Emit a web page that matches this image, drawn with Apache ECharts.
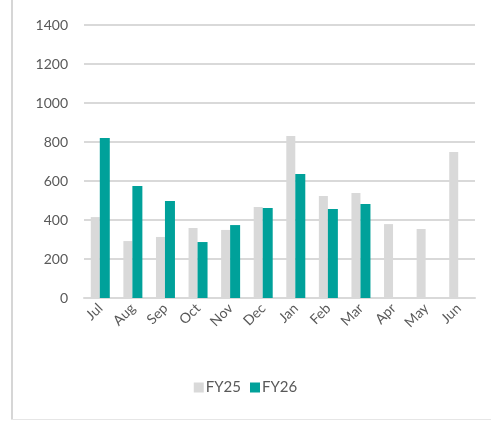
<!DOCTYPE html>
<html>
<head>
<meta charset="utf-8">
<style>
  html, body { margin: 0; padding: 0; background: #fff; }
  #chart { width: 491px; height: 422px; }
</style>
<script src="https://cdn.jsdelivr.net/npm/echarts@6/dist/echarts.min.js"></script>
</head>
<body>
<div id="chart"></div>
<script>
var months = ['Jul', 'Aug', 'Sep', 'Oct', 'Nov', 'Dec', 'Jan', 'Feb', 'Mar', 'Apr', 'May', 'Jun'];
var fy25 = [415, 292, 313, 359, 349, 467, 831, 523, 538, 379, 354, 749];
var fy26 = [820, 574, 497, 287, 374, 462, 636, 456, 482, null, null, null];
var yTicks = [0, 200, 400, 600, 800, 1000, 1200, 1400];

var chart = echarts.init(document.getElementById('chart'));
var textFont = 'Lato, "Open Sans", sans-serif';

var options = {
    animation: false,
    textStyle: { fontFamily: textFont },
    graphic: [
        // frame left and bottom edges
        { type: 'rect', shape: { x: 11, y: 0, width: 2, height: 420 }, style: { fill: '#d6d6d6' } },
        { type: 'rect', shape: { x: 11, y: 419, width: 480, height: 1 }, style: { fill: '#e6e6e6' } }
    ],
    grid: { left: 84, right: 16, top: 25, bottom: 124 },
    legend: {
        bottom: 22,
        left: 'center',
        itemWidth: 10,
        itemHeight: 10,
        itemGap: 9,
        icon: 'rect',
        textStyle: { color: '#595959', fontSize: 15, fontFamily: textFont, padding: [0, 0, 0, -3] },
        data: ['FY25', 'FY26']
    },
    xAxis: {
        type: 'category',
        data: months,
        axisLine: { lineStyle: { color: '#d9d9d9', width: 2 } },
        axisTick: { show: false },
        axisLabel: { rotate: 45, color: '#595959', fontSize: 14, margin: 8, interval: 0 }
    },
    yAxis: {
        type: 'value',
        min: yTicks[0],
        max: yTicks[yTicks.length - 1],
        interval: 200,
        axisLine: { show: false },
        axisTick: { show: false },
        axisLabel: {
            color: '#595959', fontSize: 14, margin: 16,
            formatter: function (v) { return String(v); }
        },
        splitLine: { lineStyle: { color: '#d9d9d9', width: 2 } }
    },
    series: [
        {
            name: 'FY25',
            type: 'bar',
            data: fy25,
            barWidth: 9,
            barGap: '0%',
            itemStyle: { color: '#d9d9d9' }
        },
        {
            name: 'FY26',
            type: 'bar',
            data: fy26,
            barWidth: 10,
            itemStyle: { color: '#00a19a' }
        }
    ]
};

chart.setOption(options);
</script>
</body>
</html>
